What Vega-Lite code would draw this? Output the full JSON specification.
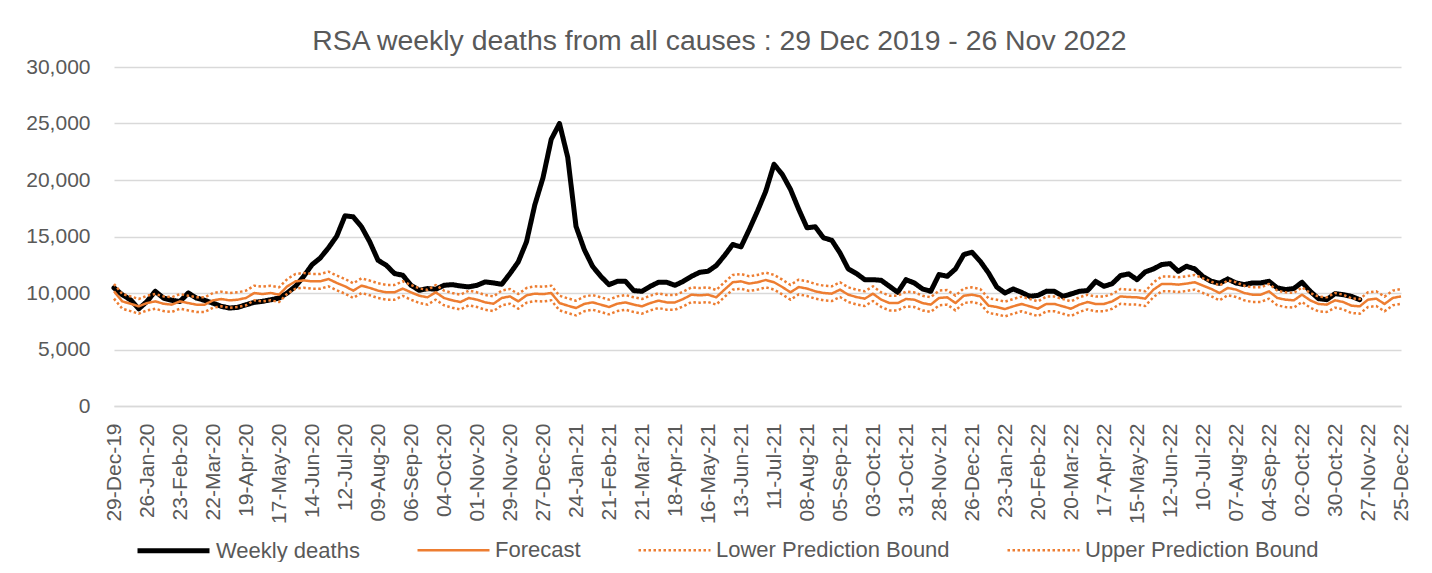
{
"$schema": "https://vega.github.io/schema/vega-lite/v6.json",
"width": 1287,
"height": 339,
"padding": {"left": 25, "top": 26, "right": 20, "bottom": 0},
"background": "white",
"title": {"text": "RSA weekly deaths from all causes : 29 Dec 2019 - 26 Nov 2022", "fontSize": 28.4, "font": "Liberation Sans", "fontWeight": "normal", "color": "#595959", "anchor": "middle", "dx": -38, "offset": 0},
"data": {"values": [
{"w":"29-Dec-19","d":10450,"f":10150,"lo":9500,"hi":10800},
{"w":"05-Jan-20","d":9850,"f":9260,"lo":8610,"hi":9910},
{"w":"12-Jan-20","d":9400,"f":9050,"lo":8400,"hi":9700},
{"w":"19-Jan-20","d":8600,"f":8820,"lo":8170,"hi":9470},
{"w":"26-Jan-20","d":9250,"f":9110,"lo":8460,"hi":9760},
{"w":"02-Feb-20","d":10150,"f":9260,"lo":8610,"hi":9910},
{"w":"09-Feb-20","d":9550,"f":9050,"lo":8400,"hi":9700},
{"w":"16-Feb-20","d":9350,"f":8970,"lo":8320,"hi":9620},
{"w":"23-Feb-20","d":9250,"f":9260,"lo":8610,"hi":9910},
{"w":"01-Mar-20","d":10000,"f":9110,"lo":8460,"hi":9760},
{"w":"08-Mar-20","d":9550,"f":8970,"lo":8320,"hi":9620},
{"w":"15-Mar-20","d":9350,"f":8970,"lo":8320,"hi":9620},
{"w":"22-Mar-20","d":9100,"f":9350,"lo":8700,"hi":10000},
{"w":"29-Mar-20","d":8820,"f":9470,"lo":8820,"hi":10120},
{"w":"05-Apr-20","d":8670,"f":9350,"lo":8700,"hi":10000},
{"w":"12-Apr-20","d":8730,"f":9410,"lo":8760,"hi":10060},
{"w":"19-Apr-20","d":8960,"f":9560,"lo":8910,"hi":10210},
{"w":"26-Apr-20","d":9170,"f":10000,"lo":9350,"hi":10650},
{"w":"03-May-20","d":9260,"f":9910,"lo":9260,"hi":10560},
{"w":"10-May-20","d":9400,"f":10000,"lo":9350,"hi":10650},
{"w":"17-May-20","d":9550,"f":9850,"lo":9200,"hi":10500},
{"w":"24-May-20","d":10000,"f":10590,"lo":9940,"hi":11240},
{"w":"31-May-20","d":10590,"f":11030,"lo":10380,"hi":11680},
{"w":"07-Jun-20","d":11480,"f":11120,"lo":10470,"hi":11770},
{"w":"14-Jun-20","d":12500,"f":11030,"lo":10380,"hi":11680},
{"w":"21-Jun-20","d":13100,"f":11030,"lo":10380,"hi":11680},
{"w":"28-Jun-20","d":14000,"f":11240,"lo":10590,"hi":11890},
{"w":"05-Jul-20","d":15030,"f":10890,"lo":10240,"hi":11540},
{"w":"12-Jul-20","d":16830,"f":10590,"lo":9940,"hi":11240},
{"w":"19-Jul-20","d":16740,"f":10210,"lo":9560,"hi":10860},
{"w":"26-Jul-20","d":15860,"f":10650,"lo":10000,"hi":11300},
{"w":"02-Aug-20","d":14530,"f":10450,"lo":9800,"hi":11100},
{"w":"09-Aug-20","d":12900,"f":10210,"lo":9560,"hi":10860},
{"w":"16-Aug-20","d":12460,"f":10060,"lo":9410,"hi":10710},
{"w":"23-Aug-20","d":11720,"f":10060,"lo":9410,"hi":10710},
{"w":"30-Aug-20","d":11570,"f":10390,"lo":9740,"hi":11040},
{"w":"06-Sep-20","d":10680,"f":10060,"lo":9410,"hi":10710},
{"w":"13-Sep-20","d":10240,"f":9760,"lo":9110,"hi":10410},
{"w":"20-Sep-20","d":10390,"f":9620,"lo":8970,"hi":10270},
{"w":"27-Sep-20","d":10330,"f":10060,"lo":9410,"hi":10710},
{"w":"04-Oct-20","d":10680,"f":9560,"lo":8910,"hi":10210},
{"w":"11-Oct-20","d":10740,"f":9350,"lo":8700,"hi":10000},
{"w":"18-Oct-20","d":10620,"f":9200,"lo":8550,"hi":9850},
{"w":"25-Oct-20","d":10540,"f":9560,"lo":8910,"hi":10210},
{"w":"01-Nov-20","d":10680,"f":9410,"lo":8760,"hi":10060},
{"w":"08-Nov-20","d":10980,"f":9170,"lo":8520,"hi":9820},
{"w":"15-Nov-20","d":10890,"f":9050,"lo":8400,"hi":9700},
{"w":"22-Nov-20","d":10770,"f":9560,"lo":8910,"hi":10210},
{"w":"29-Nov-20","d":11720,"f":9700,"lo":9050,"hi":10350},
{"w":"06-Dec-20","d":12750,"f":9260,"lo":8610,"hi":9910},
{"w":"13-Dec-20","d":14530,"f":9790,"lo":9140,"hi":10440},
{"w":"20-Dec-20","d":17780,"f":9940,"lo":9290,"hi":10590},
{"w":"27-Dec-20","d":20200,"f":9900,"lo":9250,"hi":10550},
{"w":"03-Jan-21","d":23600,"f":10000,"lo":9350,"hi":10650},
{"w":"10-Jan-21","d":25000,"f":9110,"lo":8460,"hi":9760},
{"w":"17-Jan-21","d":22000,"f":8880,"lo":8230,"hi":9530},
{"w":"24-Jan-21","d":15900,"f":8670,"lo":8020,"hi":9320},
{"w":"31-Jan-21","d":13850,"f":9030,"lo":8380,"hi":9680},
{"w":"07-Feb-21","d":12370,"f":9170,"lo":8520,"hi":9820},
{"w":"14-Feb-21","d":11480,"f":8970,"lo":8320,"hi":9620},
{"w":"21-Feb-21","d":10740,"f":8760,"lo":8110,"hi":9410},
{"w":"28-Feb-21","d":11030,"f":9050,"lo":8400,"hi":9700},
{"w":"07-Mar-21","d":11030,"f":9170,"lo":8520,"hi":9820},
{"w":"14-Mar-21","d":10210,"f":8970,"lo":8320,"hi":9620},
{"w":"21-Mar-21","d":10150,"f":8820,"lo":8170,"hi":9470},
{"w":"28-Mar-21","d":10590,"f":9110,"lo":8460,"hi":9760},
{"w":"04-Apr-21","d":10950,"f":9320,"lo":8670,"hi":9970},
{"w":"11-Apr-21","d":10950,"f":9170,"lo":8520,"hi":9820},
{"w":"18-Apr-21","d":10680,"f":9170,"lo":8520,"hi":9820},
{"w":"25-Apr-21","d":11030,"f":9470,"lo":8820,"hi":10120},
{"w":"02-May-21","d":11480,"f":9850,"lo":9200,"hi":10500},
{"w":"09-May-21","d":11830,"f":9790,"lo":9140,"hi":10440},
{"w":"16-May-21","d":11920,"f":9850,"lo":9200,"hi":10500},
{"w":"23-May-21","d":12430,"f":9620,"lo":8970,"hi":10270},
{"w":"30-May-21","d":13310,"f":10300,"lo":9650,"hi":10950},
{"w":"06-Jun-21","d":14290,"f":10950,"lo":10300,"hi":11600},
{"w":"13-Jun-21","d":14080,"f":11030,"lo":10380,"hi":11680},
{"w":"20-Jun-21","d":15620,"f":10830,"lo":10180,"hi":11480},
{"w":"27-Jun-21","d":17250,"f":10950,"lo":10300,"hi":11600},
{"w":"04-Jul-21","d":19000,"f":11150,"lo":10500,"hi":11800},
{"w":"11-Jul-21","d":21390,"f":10950,"lo":10300,"hi":11600},
{"w":"18-Jul-21","d":20500,"f":10530,"lo":9880,"hi":11180},
{"w":"25-Jul-21","d":19170,"f":10060,"lo":9410,"hi":10710},
{"w":"01-Aug-21","d":17400,"f":10530,"lo":9880,"hi":11180},
{"w":"08-Aug-21","d":15770,"f":10390,"lo":9740,"hi":11040},
{"w":"15-Aug-21","d":15860,"f":10150,"lo":9500,"hi":10800},
{"w":"22-Aug-21","d":14880,"f":10000,"lo":9350,"hi":10650},
{"w":"29-Aug-21","d":14670,"f":9940,"lo":9290,"hi":10590},
{"w":"05-Sep-21","d":13550,"f":10300,"lo":9650,"hi":10950},
{"w":"12-Sep-21","d":12130,"f":9850,"lo":9200,"hi":10500},
{"w":"19-Sep-21","d":11720,"f":9640,"lo":8990,"hi":10290},
{"w":"26-Sep-21","d":11180,"f":9500,"lo":8850,"hi":10150},
{"w":"03-Oct-21","d":11180,"f":9940,"lo":9290,"hi":10590},
{"w":"10-Oct-21","d":11120,"f":9410,"lo":8760,"hi":10060},
{"w":"17-Oct-21","d":10590,"f":9110,"lo":8460,"hi":9760},
{"w":"24-Oct-21","d":10060,"f":9110,"lo":8460,"hi":9760},
{"w":"31-Oct-21","d":11180,"f":9470,"lo":8820,"hi":10120},
{"w":"07-Nov-21","d":10890,"f":9410,"lo":8760,"hi":10060},
{"w":"14-Nov-21","d":10360,"f":9110,"lo":8460,"hi":9760},
{"w":"21-Nov-21","d":10150,"f":8970,"lo":8320,"hi":9620},
{"w":"28-Nov-21","d":11630,"f":9560,"lo":8910,"hi":10210},
{"w":"05-Dec-21","d":11480,"f":9620,"lo":8970,"hi":10270},
{"w":"12-Dec-21","d":12130,"f":9110,"lo":8460,"hi":9760},
{"w":"19-Dec-21","d":13400,"f":9760,"lo":9110,"hi":10410},
{"w":"26-Dec-21","d":13610,"f":9850,"lo":9200,"hi":10500},
{"w":"02-Jan-22","d":12800,"f":9700,"lo":9050,"hi":10350},
{"w":"09-Jan-22","d":11780,"f":8880,"lo":8230,"hi":9530},
{"w":"16-Jan-22","d":10530,"f":8760,"lo":8110,"hi":9410},
{"w":"23-Jan-22","d":10000,"f":8580,"lo":7930,"hi":9230},
{"w":"30-Jan-22","d":10360,"f":8820,"lo":8170,"hi":9470},
{"w":"06-Feb-22","d":10060,"f":9030,"lo":8380,"hi":9680},
{"w":"13-Feb-22","d":9700,"f":8820,"lo":8170,"hi":9470},
{"w":"20-Feb-22","d":9790,"f":8610,"lo":7960,"hi":9260},
{"w":"27-Feb-22","d":10150,"f":9030,"lo":8380,"hi":9680},
{"w":"06-Mar-22","d":10150,"f":9030,"lo":8380,"hi":9680},
{"w":"13-Mar-22","d":9700,"f":8820,"lo":8170,"hi":9470},
{"w":"20-Mar-22","d":9910,"f":8610,"lo":7960,"hi":9260},
{"w":"27-Mar-22","d":10150,"f":8970,"lo":8320,"hi":9620},
{"w":"03-Apr-22","d":10210,"f":9200,"lo":8550,"hi":9850},
{"w":"10-Apr-22","d":11030,"f":9030,"lo":8380,"hi":9680},
{"w":"17-Apr-22","d":10590,"f":9030,"lo":8380,"hi":9680},
{"w":"24-Apr-22","d":10830,"f":9260,"lo":8610,"hi":9910},
{"w":"01-May-22","d":11540,"f":9700,"lo":9050,"hi":10350},
{"w":"08-May-22","d":11690,"f":9640,"lo":8990,"hi":10290},
{"w":"15-May-22","d":11180,"f":9620,"lo":8970,"hi":10270},
{"w":"22-May-22","d":11870,"f":9500,"lo":8850,"hi":10150},
{"w":"29-May-22","d":12130,"f":10300,"lo":9650,"hi":10950},
{"w":"05-Jun-22","d":12520,"f":10800,"lo":10150,"hi":11450},
{"w":"12-Jun-22","d":12600,"f":10800,"lo":10150,"hi":11450},
{"w":"19-Jun-22","d":11920,"f":10740,"lo":10090,"hi":11390},
{"w":"26-Jun-22","d":12370,"f":10830,"lo":10180,"hi":11480},
{"w":"03-Jul-22","d":12130,"f":10950,"lo":10300,"hi":11600},
{"w":"10-Jul-22","d":11450,"f":10650,"lo":10000,"hi":11300},
{"w":"17-Jul-22","d":11030,"f":10360,"lo":9710,"hi":11010},
{"w":"24-Jul-22","d":10860,"f":10000,"lo":9350,"hi":10650},
{"w":"31-Jul-22","d":11240,"f":10450,"lo":9800,"hi":11100},
{"w":"07-Aug-22","d":10890,"f":10300,"lo":9650,"hi":10950},
{"w":"14-Aug-22","d":10740,"f":10000,"lo":9350,"hi":10650},
{"w":"21-Aug-22","d":10890,"f":9850,"lo":9200,"hi":10500},
{"w":"28-Aug-22","d":10890,"f":9850,"lo":9200,"hi":10500},
{"w":"04-Sep-22","d":11030,"f":10150,"lo":9500,"hi":10800},
{"w":"11-Sep-22","d":10450,"f":9560,"lo":8910,"hi":10210},
{"w":"18-Sep-22","d":10300,"f":9410,"lo":8760,"hi":10060},
{"w":"25-Sep-22","d":10390,"f":9350,"lo":8700,"hi":10000},
{"w":"02-Oct-22","d":10950,"f":9850,"lo":9200,"hi":10500},
{"w":"09-Oct-22","d":10150,"f":9350,"lo":8700,"hi":10000},
{"w":"16-Oct-22","d":9500,"f":9030,"lo":8380,"hi":9680},
{"w":"23-Oct-22","d":9410,"f":8970,"lo":8320,"hi":9620},
{"w":"30-Oct-22","d":9940,"f":9350,"lo":8700,"hi":10000},
{"w":"06-Nov-22","d":9850,"f":9200,"lo":8550,"hi":9850},
{"w":"13-Nov-22","d":9700,"f":8880,"lo":8230,"hi":9530},
{"w":"20-Nov-22","d":9410,"f":8820,"lo":8170,"hi":9470},
{"w":"27-Nov-22","d":null,"f":9410,"lo":8760,"hi":10060},
{"w":"04-Dec-22","d":null,"f":9500,"lo":8850,"hi":10150},
{"w":"11-Dec-22","d":null,"f":9030,"lo":8380,"hi":9680},
{"w":"18-Dec-22","d":null,"f":9560,"lo":8910,"hi":10210},
{"w":"25-Dec-22","d":null,"f":9700,"lo":9050,"hi":10350}
]},
"transform": [{"fold": ["d", "f", "lo", "hi"], "as": ["series", "value"]}],
"encoding": {
  "x": {"field": "w", "type": "ordinal", "sort": null, "scale": {"type": "point", "padding": 0},
    "axis": {"title": null, "values": ["29-Dec-19","26-Jan-20","23-Feb-20","22-Mar-20","19-Apr-20","17-May-20","14-Jun-20","12-Jul-20","09-Aug-20","06-Sep-20","04-Oct-20","01-Nov-20","29-Nov-20","27-Dec-20","24-Jan-21","21-Feb-21","21-Mar-21","18-Apr-21","16-May-21","13-Jun-21","11-Jul-21","08-Aug-21","05-Sep-21","03-Oct-21","31-Oct-21","28-Nov-21","26-Dec-21","23-Jan-22","20-Feb-22","20-Mar-22","17-Apr-22","15-May-22","12-Jun-22","10-Jul-22","07-Aug-22","04-Sep-22","02-Oct-22","30-Oct-22","27-Nov-22","25-Dec-22"],
      "labelAngle": -90, "labelAlign": "right", "labelBaseline": "middle", "labelPadding": 17, "ticks": false, "grid": false,
      "domainColor": "#d9d9d9", "domainWidth": 1.5, "labelFontSize": 21, "labelColor": "#595959", "labelFont": "Liberation Sans", "labelOverlap": false, "labelBound": false}},
  "y": {"field": "value", "type": "quantitative", "scale": {"domain": [0, 30000], "nice": false},
    "axis": {"title": null, "values": [0, 5000, 10000, 15000, 20000, 25000, 30000], "format": ",d", "grid": true, "gridColor": "#d9d9d9", "gridWidth": 1.5,
      "domain": false, "ticks": false, "labelPadding": 24, "labelFontSize": 21, "labelColor": "#595959", "labelFont": "Liberation Sans", "minExtent": 88, "maxExtent": 88}},
  "color": {"field": "series", "type": "nominal",
    "scale": {"domain": ["d", "f", "lo", "hi"], "range": ["#000000", "#ED7D31", "#ED7D31", "#ED7D31"]},
    "legend": {"title": null, "orient": "none", "legendX": 21, "legendY": 445, "direction": "horizontal", "symbolType": "stroke", "symbolSize": 5184,
      "labelFontSize": 22, "labelColor": "#595959", "labelFont": "Liberation Sans", "labelOffset": 4, "columnPadding": 52, "labelLimit": 400,
      "labelExpr": "datum.label == 'd' ? 'Weekly deaths' : datum.label == 'f' ? 'Forecast' : datum.label == 'lo' ? 'Lower Prediction Bound' : 'Upper Prediction Bound'"}},
  "strokeDash": {"field": "series", "type": "nominal",
    "scale": {"type": "ordinal", "domain": ["d", "f", "lo", "hi"], "range": [[1, 0], [1, 0], [2.5, 2.5], [2.5, 2.5]]}},
  "strokeWidth": {"field": "series", "type": "nominal",
    "scale": {"type": "ordinal", "domain": ["d", "f", "lo", "hi"], "range": [5, 2.5, 2.5, 2.5]}}
},
"layer": [
  {"transform": [{"filter": "datum.series == 'd'"}], "mark": {"type": "line", "strokeJoin": "round", "strokeCap": "round"}},
  {"transform": [{"filter": "datum.series != 'd'"}], "mark": {"type": "line", "strokeJoin": "round"}}
],
"config": {
  "view": {"stroke": null}
}
}
